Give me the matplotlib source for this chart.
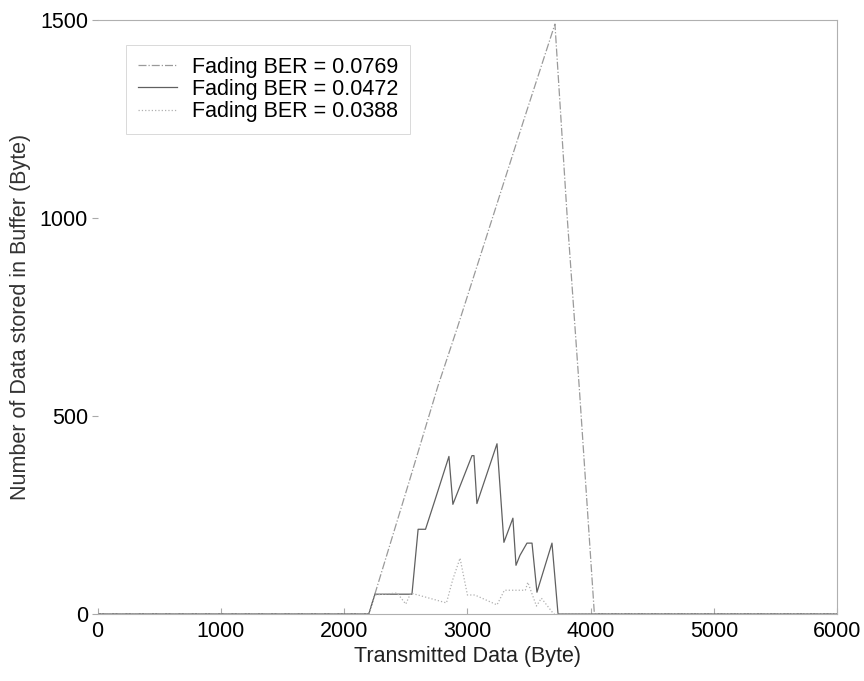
import numpy as np
import matplotlib.pyplot as plt

plt.rcParams['font.family'] = ['Liberation Sans', 'DejaVu Sans']

# BER = 0.0769 (dash-dot)
x1 = [0, 2200, 2530, 2760, 2920, 3470, 3710, 3810, 3910, 4030, 6000]
y1 = [0, 0, 337, 575, 725, 1260, 1490, 1000, 560, 0, 0]

# BER = 0.0472 (solid)
x2 = [0, 2200, 2250, 2550, 2600, 2660, 2736, 2850, 2882, 3037, 3053, 3077,
      3240, 3296, 3369, 3394, 3426, 3483, 3524, 3564, 3686, 3735, 6000]
y2 = [0, 0, 50, 50, 214, 214, 287, 398, 277, 400, 400, 279,
      430, 181, 242, 123, 148, 179, 179, 55, 179, 0, 0]

# BER = 0.0388 (dotted)
x3 = [0, 2200, 2250, 2430, 2500, 2540, 2830, 2880, 2940, 3000, 3060,
      3240, 3300, 3470, 3490, 3560, 3600, 3700, 6000]
y3 = [0, 0, 48, 53, 25, 53, 28, 86, 141, 48, 48,
      23, 60, 60, 80, 20, 40, 0, 0]

labels = ['Fading BER = 0.0769', 'Fading BER = 0.0472', 'Fading BER = 0.0388']

fig = plt.figure(figsize=(8.64, 6.81), dpi=100)
ax = fig.add_axes([0.113, 0.0984, 0.856, 0.872])

ax.plot(x1, y1, '-.', color='#9a9a9a', lw=0.9, label=labels[0])
ax.plot(x2, y2, '-', color='#606060', lw=0.9, label=labels[1])
ax.plot(x3, y3, ':', color='#b0b0b0', lw=0.9, label=labels[2])

ax.set_xlim(0, 6000)
ax.set_ylim(0, 1500)
ax.set_xticks([0, 1000, 2000, 3000, 4000, 5000, 6000])
ax.set_yticks([0, 500, 1000, 1500])

for s in ['top', 'right', 'bottom']:
    ax.spines[s].set_color('#b0b0b0')
    ax.spines[s].set_linewidth(0.8)
ax.spines['left'].set_visible(False)

ax.tick_params(axis='y', direction='out', length=4, color='#aaaaaa', labelsize=15.5, pad=3)
ax.tick_params(axis='x', direction='in', length=4, color='#aaaaaa', labelsize=15.5, pad=5)

ax.set_xlabel('Transmitted Data (Byte)', fontsize=15.5, color='#222222', labelpad=3)
ax.set_ylabel('Number of Data stored in Buffer (Byte)', fontsize=15.5, color='#333333', labelpad=6)

leg = ax.legend(loc='upper left', bbox_to_anchor=(0.039, 0.958), borderaxespad=0,
                fontsize=15.5, frameon=True, fancybox=False, handlelength=1.8,
                borderpad=0.55, labelspacing=0.05, handletextpad=0.7)
leg.get_frame().set_edgecolor('#d0d0d0')
leg.get_frame().set_linewidth(0.7)

fig.savefig('out.png', dpi=100)
